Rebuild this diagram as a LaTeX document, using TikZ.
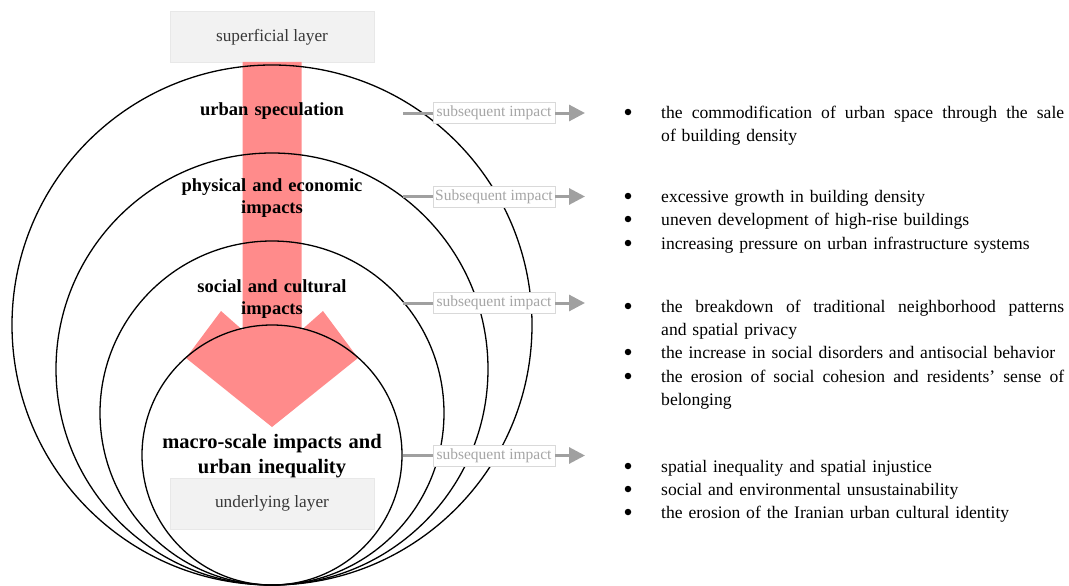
\documentclass[tikz,border=0pt]{standalone}
\usepackage{fontspec}
\setmainfont{Liberation Serif}
\usetikzlibrary{arrows.meta}
\definecolor{arrowred}{RGB}{255,139,139}
\definecolor{layerfill}{RGB}{242,242,242}
\definecolor{layerline}{RGB}{232,232,232}
\definecolor{linkgray}{RGB}{160,160,160}
\definecolor{labelgray}{RGB}{166,166,166}
\definecolor{labelline}{RGB}{217,217,217}
\newcommand{\jline}[1]{\hbox to 403pt{\spaceskip=0.25em plus 1fil\relax #1}}
\begin{document}
\begin{tikzpicture}[x=1pt,y=-1pt,
  ring/.style={circle, draw=black, line width=1.3pt, inner sep=0pt},
  layerbox/.style={fill=layerfill, draw=layerline, line width=0.5pt, minimum width=204pt, minimum height=51pt, inner sep=0pt, font=\fontsize{17.3}{20}\selectfont, text=black!78},
  ringlabel/.style={font=\bfseries\fontsize{18.5}{22}\selectfont, align=center, text width=240pt, anchor=base, inner sep=0pt},
  biglabel/.style={ringlabel, font=\bfseries\fontsize{20.5}{25}\selectfont},
  impactbox/.style={draw=labelline, fill=white, line width=0.6pt, minimum width=122pt, minimum height=21pt, inner sep=0pt, text=labelgray, font=\fontsize{15.5}{18}\selectfont},
  link/.style={draw=linkgray, line width=3pt},
  linkarrow/.style={link, -{Triangle[length=16pt,width=16pt]}},
  bulletdot/.style={circle, fill=black, inner sep=0pt, minimum size=6.5pt},
  item/.style={font=\fontsize{17.6}{23.4}\selectfont, text width=403pt, align=left, anchor=base west, inner sep=0pt},
]
\useasboundingbox (0,0) rectangle (1069,586);

% layer boxes
\node[layerbox] (top) at (272,37) {superficial layer};
\node[layerbox] (bottom) at (272,503.5) {underlying layer};

% red arrow
\fill[arrowred] (242.5,62) -- (301.5,62) -- (301.5,330) -- (323,311) -- (358,358)
  -- (272,427) -- (186,358) -- (221,311) -- (242.5,330) -- cycle;

% rings
\node[ring, minimum size=520pt] (c1) at (272,325) {};
\node[ring, minimum size=432pt] (c2) at (272,369) {};
\node[ring, minimum size=344pt] (c3) at (272,413) {};
\node[ring, minimum size=260pt] (c4) at (272,455) {};

% ring labels
\node[ringlabel] (l1) at (272,116) {urban speculation};
\node[ringlabel] (l2) at (272,191) {physical and economic\\impacts};
\node[ringlabel] (l3) at (272,292) {social and cultural\\impacts};
\node[biglabel] (l4) at (272,448) {macro-scale impacts and\\urban inequality};

% connectors
\coordinate (s1) at (403,113);
\coordinate (s2) at (403,196.5);
\coordinate (s3) at (403,303);
\coordinate (s4) at (403,455.5);
\coordinate (e1) at (585,113);
\coordinate (e2) at (585,196.5);
\coordinate (e3) at (585,303);
\coordinate (e4) at (585,455.5);
\node[impactbox] (i1) at (494,113) {subsequent impact};
\node[impactbox] (i2) at (494,196.5) {Subsequent impact};
\node[impactbox] (i3) at (494,303) {subsequent impact};
\node[impactbox] (i4) at (494,455.5) {subsequent impact};
\foreach \k in {1,2,3,4}{
  \draw[link] (s\k) -- (i\k.west);
  \draw[linkarrow] (i\k.east) -- (e\k);
}

% bullet lists
\node[bulletdot] (b1) at (628,112) {};
\node[item] (t1) at (661,118) {\jline{the commodification of urban space through the sale}\\of building density};

\node[bulletdot] (b2) at (628,196) {};
\node[item] (t2) at (661,202) {excessive growth in building density};
\node[bulletdot] (b3) at (628,219) {};
\node[item] (t3) at (661,225) {uneven development of high-rise buildings};
\node[bulletdot] (b4) at (628,243) {};
\node[item] (t4) at (661,249) {increasing pressure on urban infrastructure systems};

\node[bulletdot] (b5) at (628,306) {};
\node[item] (t5) at (661,312) {\jline{the breakdown of traditional neighborhood patterns}\\and spatial privacy};
\node[bulletdot] (b6) at (628,352) {};
\node[item] (t6) at (661,358) {the increase in social disorders and antisocial behavior};
\node[bulletdot] (b7) at (628,376) {};
\node[item] (t7) at (661,382) {\jline{the erosion of social cohesion and residents’ sense of}\\belonging};

\node[bulletdot] (b8) at (628,466) {};
\node[item] (t8) at (661,472) {spatial inequality and spatial injustice};
\node[bulletdot] (b9) at (628,489) {};
\node[item] (t9) at (661,495) {social and environmental unsustainability};
\node[bulletdot] (b10) at (628,512) {};
\node[item] (t10) at (661,518) {the erosion of the Iranian urban cultural identity};
\end{tikzpicture}
\end{document}
